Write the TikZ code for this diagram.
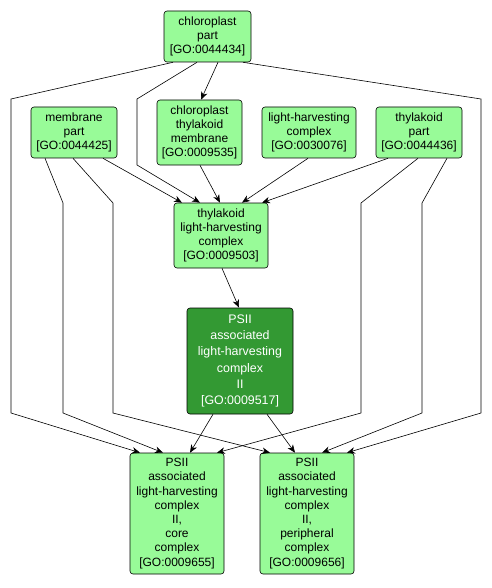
\documentclass[tikz,border=0pt]{standalone}
\usepackage{fontspec}
\setmainfont{Liberation Sans}
\usetikzlibrary{arrows.meta}
\definecolor{golight}{HTML}{98FB98}
\definecolor{godark}{HTML}{339933}
\tikzset{x=1pt, y=-1pt,
    term/.style={draw, rounded corners=3pt, fill=golight, align=center, inner sep=0pt,
        font=\fontsize{12}{14.2}\selectfont, line width=0.6pt},
    hit/.style={term, fill=godark, text=white, font=\fontsize{12.4}{16.3}\selectfont},
    isa/.style={-{Stealth[length=8pt,width=6.5pt,inset=2.5pt]}, line width=0.6pt}}

\begin{document}
\begin{tikzpicture}
    \useasboundingbox (0,0) rectangle (491,588);
    \node[term, minimum width=87, minimum height=51] (cpart) at (207.5,36.5)
        {chloroplast\\part\\{[GO:0044434]}};
    \node[term, minimum width=86, minimum height=51] (mpart) at (74,132.5)
        {membrane\\part\\{[GO:0044425]}};
    \node[term, minimum width=85, minimum height=65] (ctm) at (199.5,132.5)
        {chloroplast\\thylakoid\\membrane\\{[GO:0009535]}};
    \node[term, minimum width=94, minimum height=51] (lhc) at (309,132.5)
        {light-harvesting\\complex\\{[GO:0030076]}};
    \node[term, minimum width=86, minimum height=51] (tpart) at (419,132.5)
        {thylakoid\\part\\{[GO:0044436]}};
    \node[term, minimum width=94, minimum height=65] (tlh) at (221,235.5)
        {thylakoid\\light-harvesting\\complex\\{[GO:0009503]}};
    \node[hit, minimum width=106, minimum height=106] (psii) at (240,361)
        {PSII\\associated\\light-harvesting\\complex\\II\\{[GO:0009517]}};
    \node[term, minimum width=94, minimum height=121] (core) at (177,513.5)
        {PSII\\associated\\light-harvesting\\complex\\II,\\core\\complex\\{[GO:0009655]}};
    \node[term, minimum width=94, minimum height=121] (peri) at (307,513.5)
        {PSII\\associated\\light-harvesting\\complex\\II,\\peripheral\\complex\\{[GO:0009656]}};

    \draw[isa] ([xshift=-34.5]cpart.south) -- (11,99) -- (11,413) -- ([xshift=-37]core.north);
    \draw[isa] ([xshift=-10.5]cpart.south) -- (137,99) -- (137,165) -- ([xshift=-21]tlh.north);
    \draw[isa] ([xshift=10.5]cpart.south) -- ([xshift=1.5]ctm.north);
    \draw[isa] ([xshift=35.5]cpart.south) -- (481,99) -- (481,413) -- ([xshift=40]peri.north);
    \draw[isa] ([xshift=-29]mpart.south) -- (63,203) -- (63,413) -- ([xshift=-14]core.north);
    \draw[isa] ([xshift=-1]mpart.south) -- (113,203) -- (113,413) -- ([xshift=-37]peri.north);
    \draw[isa] ([xshift=29]mpart.south) -- ([xshift=-39]tlh.north);
    \draw[isa] ([xshift=0.5]ctm.south) -- ([xshift=-1]tlh.north);
    \draw[isa] ([xshift=-1]lhc.south) -- ([xshift=21]tlh.north);
    \draw[isa] ([xshift=-31]tpart.south) -- ([xshift=41]tlh.north);
    \draw[isa] ([xshift=-1]tpart.south) -- (361,203) -- (361,413) -- ([xshift=40]core.north);
    \draw[isa] ([xshift=28]tpart.south) -- (422,203) -- (422,413) -- ([xshift=15]peri.north);
    \draw[isa] ([xshift=1]tlh.south) -- ([xshift=-1]psii.north);
    \draw[isa] ([xshift=-27]psii.south) -- ([xshift=13]core.north);
    \draw[isa] ([xshift=27]psii.south) -- ([xshift=-12]peri.north);
\end{tikzpicture}
\end{document}
